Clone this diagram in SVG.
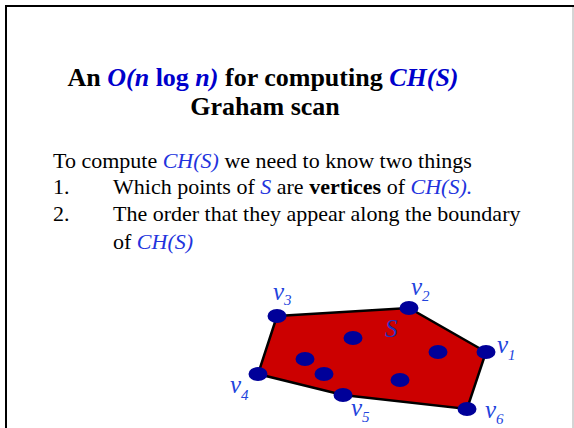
<svg xmlns="http://www.w3.org/2000/svg" width="574" height="428" viewBox="0 0 574 428">
<style>
.t{font-family:"Liberation Serif","Times New Roman",serif;}
.title{font-size:26px;font-weight:bold;fill:#000;}
.tb{fill:#0000cc;}
.body{font-size:22px;fill:#000;}
.bb{fill:#2233dd;font-style:italic;}
.vl{font-size:25px;font-style:italic;fill:#2244dd;}
.sub{font-size:15px;}
.dot{fill:#000099;}
</style>
<rect width="574" height="428" fill="#fff"/>
<path d="M6,430 V6 H574" fill="none" stroke="#000" stroke-width="2"/>
<line x1="573" y1="7" x2="573" y2="428" stroke="#aaa" stroke-width="1"/>
<g id="title">
<text class="t title" x="263" y="86" text-anchor="middle">An <tspan class="tb" font-style="italic">O(n </tspan><tspan class="tb">log </tspan><tspan class="tb" font-style="italic">n)</tspan> for computing <tspan class="tb" font-style="italic">CH(S)</tspan></text>
<text class="t title" x="265" y="115" text-anchor="middle">Graham scan</text>
</g>
<g id="body">
<text class="t body" x="53" y="168">To compute <tspan class="bb">CH(S)</tspan> we need to know two things</text>
<text class="t body" x="53" y="194">1.</text>
<text class="t body" x="113" y="194">Which points of <tspan class="bb">S</tspan> are <tspan font-weight="bold">vertices</tspan> of <tspan class="bb">CH(S).</tspan></text>
<text class="t body" x="53" y="221">2.</text>
<text class="t body" x="113" y="221">The order that they appear along the boundary</text>
<text class="t body" x="113" y="249">of <tspan class="bb">CH(S)</tspan></text>
</g>
<g id="hull">
<polygon points="277,316 409,308 486,352 467,409 343,395 258,374" fill="#cc0000" stroke="#000" stroke-width="2.5" stroke-linejoin="miter"/>
<text class="t" x="385" y="337" font-size="25" font-style="italic" fill="#2233bb">S</text>
</g>
<g id="points">
<ellipse class="dot" cx="277" cy="316" rx="9.5" ry="7"/>
<ellipse class="dot" cx="409" cy="308" rx="9.5" ry="7"/>
<ellipse class="dot" cx="486" cy="352" rx="9.5" ry="7"/>
<ellipse class="dot" cx="467" cy="409" rx="9.5" ry="7"/>
<ellipse class="dot" cx="343" cy="395" rx="9.5" ry="7"/>
<ellipse class="dot" cx="258" cy="374" rx="9.5" ry="7"/>
<ellipse class="dot" cx="353" cy="338" rx="9.5" ry="7"/>
<ellipse class="dot" cx="438" cy="352" rx="9.5" ry="7"/>
<ellipse class="dot" cx="305" cy="359" rx="9.5" ry="7"/>
<ellipse class="dot" cx="324" cy="374" rx="9.5" ry="7"/>
<ellipse class="dot" cx="400" cy="380" rx="9.5" ry="7"/>
</g>
<g id="labels">
<text class="t vl" x="273" y="300">v<tspan class="sub" dy="5">3</tspan></text>
<text class="t vl" x="411" y="295">v<tspan class="sub" dy="6">2</tspan></text>
<text class="t vl" x="497" y="353">v<tspan class="sub" dy="7">1</tspan></text>
<text class="t vl" x="230" y="393">v<tspan class="sub" dy="7">4</tspan></text>
<text class="t vl" x="351" y="416">v<tspan class="sub" dy="6">5</tspan></text>
<text class="t vl" x="485" y="418">v<tspan class="sub" dy="6">6</tspan></text>
</g>
</svg>
